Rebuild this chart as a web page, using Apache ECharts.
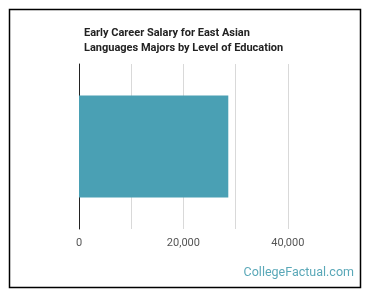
<!DOCTYPE html>
<html><head><meta charset="utf-8">
<script src="https://cdn.jsdelivr.net/npm/echarts@6/dist/echarts.min.js"></script>
<style>html,body{margin:0;padding:0;background:#fff}#c{width:370px;height:296px}</style>
</head><body><div id="c"></div>
<script>
const categories = ['Bachelor\'s'];
const salaries = [28600];
const tickValues = [0, 20000, 40000];
const titleLines = ['Early Career Salary for East Asian', 'Languages Majors by Level of Education'];

const chart = echarts.init(document.getElementById('c'), null, {renderer: 'canvas'});
chart.setOption({
  animation: false,
  backgroundColor: '#fff',
  title: {
    text: titleLines.join('\n'),
    left: 79, top: 21,
    textStyle: {fontFamily: 'Roboto', fontWeight: 'bold', fontSize: 11, color: '#222', lineHeight: 15}
  },
  graphic: [
    {type: 'rect', left: 7, top: 7, shape: {width: 351, height: 278}, style: {fill: 'none', stroke: '#000', lineWidth: 1.5}, silent: true},
    {type: 'text', right: 16, top: 266, style: {text: 'CollegeFactual.com', fill: '#5aa8b8', font: '12.5px Roboto'}}
  ],
  grid: {left: 79, right: 30, top: 64, bottom: 67, containLabel: false},
  xAxis: {
    type: 'value', min: 0, max: 50000, interval: 10000,
    axisLine: {show: false}, axisTick: {show: false},
    splitLine: {show: true, showMinLine: false, showMaxLine: false, lineStyle: {color: '#d9d9d9', width: 1}},
    axisLabel: {
      color: '#555', fontFamily: 'Roboto', fontSize: 11, margin: 9,
      formatter: v => tickValues.indexOf(v) >= 0 ? v.toLocaleString('en-US') : ''
    }
  },
  yAxis: {
    type: 'category', data: categories,
    axisLine: {show: true, lineStyle: {color: '#222', width: 1}},
    axisTick: {show: false}, axisLabel: {show: false}, splitLine: {show: false}
  },
  series: [{
    type: 'bar', data: salaries, barWidth: 102,
    itemStyle: {color: '#4aa0b4'}
  }]
});
</script></body></html>
